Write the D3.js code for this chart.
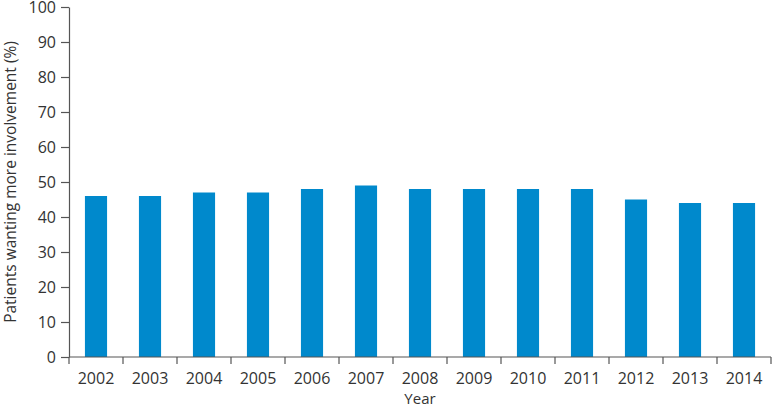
<!DOCTYPE html>
<html>
<head>
<meta charset="utf-8">
<script src="https://cdn.jsdelivr.net/npm/d3@7"></script>
<style>
  html, body { margin: 0; padding: 0; background: #fff; }
  svg { display: block; }
  text { font-family: "Open Sans", sans-serif; fill: #333; }
</style>
</head>
<body>
<svg id="chart" width="774" height="410"></svg>
<script>
const years = ["2002","2003","2004","2005","2006","2007","2008","2009","2010","2011","2012","2013","2014"];
const values = [46, 46, 47, 47, 48, 49, 48, 48, 48, 48, 45, 44, 44];
const yTicks = [0, 10, 20, 30, 40, 50, 60, 70, 80, 90, 100];
const xTitle = "Year";
const yTitle = "Patients wanting more involvement (%)";

const W = 774, H = 410;
const margin = { left: 69, right: 3, top: 7, bottom: 53 };
const svg = d3.select("#chart");

const x = d3.scaleBand().domain(years)
  .range([margin.left, W - margin.right])
  .paddingInner(0.59).paddingOuter(0.295);
const y = d3.scaleLinear().domain([0, 100]).range([H - margin.bottom, margin.top]);

svg.append("g").selectAll("rect").data(years).join("rect")
  .attr("x", d => x(d))
  .attr("width", x.bandwidth())
  .attr("y", (d, i) => y(values[i]))
  .attr("height", (d, i) => y(0) - y(values[i]))
  .attr("fill", "#0089cc");

const axisColor = "#555";
// Y axis
const yAxis = svg.append("g")
  .attr("transform", `translate(${margin.left},0)`)
  .call(d3.axisLeft(y).tickValues(yTicks).tickSize(8).tickPadding(5).tickSizeOuter(0));
yAxis.select(".domain").attr("stroke", axisColor).attr("stroke-width", 1.2);
yAxis.selectAll(".tick line").attr("stroke", axisColor).attr("stroke-width", 1.2);
yAxis.selectAll(".tick text").style("font-size", "16px").style("font-family", "Open Sans, sans-serif").attr("fill", "#333");

// X axis with ticks at band boundaries
const xAxisG = svg.append("g").attr("transform", `translate(0,${y(0)})`);
xAxisG.append("line")
  .attr("x1", margin.left).attr("x2", W - margin.right)
  .attr("stroke", axisColor).attr("stroke-width", 1.2);
const step = x.step();
const boundaries = years.map(d => x(d) - x.paddingOuter() * step).concat([W - margin.right]);
xAxisG.selectAll("line.tk").data(boundaries).join("line")
  .attr("class", "tk")
  .attr("x1", d => d).attr("x2", d => d)
  .attr("y1", 0).attr("y2", 7)
  .attr("stroke", axisColor).attr("stroke-width", 1.2);
xAxisG.selectAll("text").data(years).join("text")
  .attr("x", d => x(d) + x.bandwidth() / 2)
  .attr("y", 27)
  .attr("text-anchor", "middle")
  .style("font-size", "16px")
  .text(d => d);

svg.append("text")
  .attr("x", (margin.left + W - margin.right) / 2)
  .attr("y", 404)
  .attr("text-anchor", "middle")
  .style("font-size", "15px")
  .text(xTitle);

svg.append("text")
  .attr("transform", `translate(16,${(y(0) + y(100)) / 2}) rotate(-90)`)
  .attr("text-anchor", "middle")
  .style("font-size", "15.5px")
  .text(yTitle);
</script>
</body>
</html>
